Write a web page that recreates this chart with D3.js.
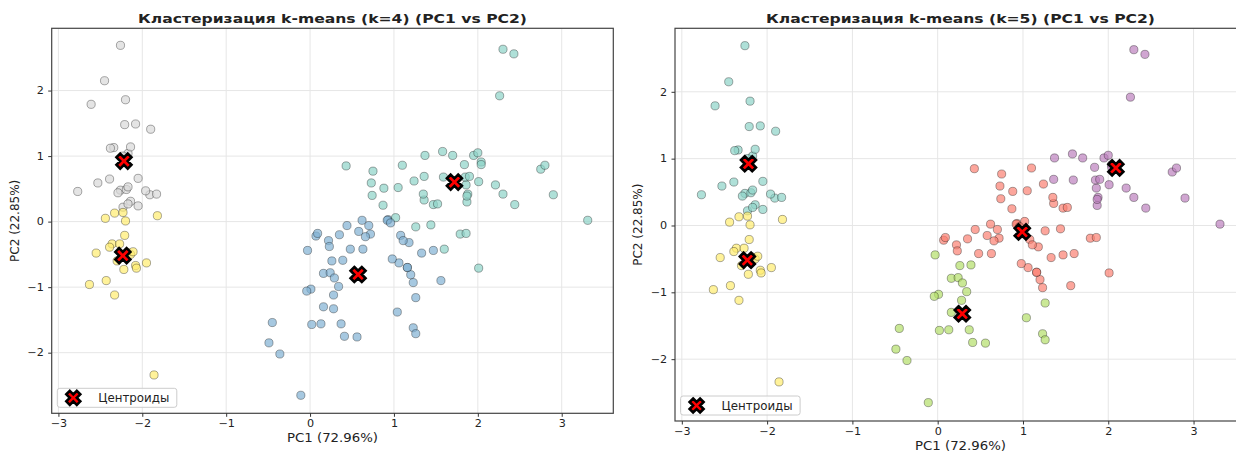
<!DOCTYPE html>
<html>
<head>
<meta charset="utf-8">
<script src="https://cdn.jsdelivr.net/npm/d3@7"></script>
<style>
body { margin: 0; background: #fff; }
text { font-family: "DejaVu Sans", sans-serif; fill: #222; }
</style>
</head>
<body>
<script>
// PCA coordinates of the 150 samples
var pc1 = [
  -2.26,-2.08,-2.36,-2.30,-2.39,-2.08,-2.44,-2.23,-2.33,-2.18,
  -2.17,-2.33,-2.22,-2.63,-2.20,-2.26,-2.21,-2.19,-1.90,-2.34,
  -1.91,-2.21,-2.77,-1.82,-2.23,-1.95,-2.05,-2.17,-2.14,-2.27,
  -2.14,-1.83,-2.61,-2.45,-2.11,-2.21,-2.05,-2.53,-2.43,-2.17,
  -2.29,-1.86,-2.55,-1.96,-2.14,-2.07,-2.38,-2.39,-2.23,-2.20,
  1.10,0.73,1.24,0.41,1.08,0.39,0.75,-0.49,0.93,0.01,
  -0.11,0.44,0.56,0.72,-0.03,0.88,0.35,0.16,1.23,0.16,
  0.74,0.48,1.23,0.63,0.70,0.87,1.26,1.36,0.66,-0.04,
  0.13,0.02,0.24,1.06,0.22,0.43,1.05,1.04,0.07,0.28,
  0.28,0.62,0.34,-0.36,0.29,0.09,0.23,0.58,-0.45,0.26,
  1.84,1.16,2.21,1.44,1.87,2.75,0.37,2.30,2.01,2.26,
  1.36,1.60,1.88,1.26,1.47,1.59,1.47,2.43,3.31,1.26,
  2.04,0.98,2.90,1.33,1.70,1.95,1.18,1.02,1.79,1.86,
  2.44,2.30,1.86,1.11,1.20,2.80,1.58,1.35,0.92,1.85,
  2.01,1.90,1.16,2.04,2.00,1.87,1.56,1.52,1.37,0.96
];
var pc2 = [
  0.48,-0.67,-0.34,-0.60,0.65,1.49,0.05,0.22,-1.12,-0.47,
  1.04,0.13,-0.73,-0.96,1.86,2.69,1.48,0.49,1.41,1.13,
  0.41,0.92,0.46,0.09,0.14,-0.63,0.24,0.53,0.31,-0.34,
  -0.50,0.42,1.79,2.15,-0.46,-0.21,0.66,0.59,-0.90,0.27,
  0.44,-2.34,-0.48,0.47,1.14,-0.71,1.12,-0.39,1.00,0.01,
  0.86,0.59,0.62,-1.75,-0.21,-0.59,0.77,-1.85,0.03,-1.03,
  -2.65,-0.06,-1.76,-0.19,-0.44,0.51,-0.20,-0.79,-1.62,-1.30,
  0.40,-0.42,-0.93,-0.42,-0.06,0.25,-0.08,0.33,-0.23,-1.06,
  -1.56,-1.57,-0.78,-0.63,-0.29,0.85,0.52,-1.38,-0.22,-1.33,
  -1.12,0.02,-0.99,-2.02,-0.86,-0.18,-0.38,-0.15,-1.54,-0.60,
  0.87,-0.70,0.56,-0.05,0.30,0.80,-1.56,0.42,-0.71,1.92,
  0.69,-0.42,0.42,-1.16,-0.44,0.68,0.26,2.56,0.02,-1.71,
  0.91,-0.57,0.41,-0.48,1.01,1.01,-0.32,0.06,-0.19,0.56,
  0.26,2.63,-0.18,-0.29,-0.81,0.86,1.07,0.42,0.02,0.68,
  0.61,0.69,-0.70,0.87,1.05,0.39,-0.90,0.27,1.01,-0.02
];

// cluster labels
var clusterK4 = [
  2,3,3,3,2,2,3,2,3,3, 2,3,3,3,2,2,2,2,2,2, 2,2,2,3,3,3,2,2,2,3,
  3,2,2,2,3,3,2,2,3,2, 2,3,3,2,2,3,2,3,2,3,
  0,0,0,1,1,1,0,1,1,1, 1,1,1,1,1,0,1,1,1,1, 0,1,1,1,1,0,0,0,1,1,
  1,1,1,1,1,0,0,1,1,1, 1,1,1,1,1,1,1,1,1,1,
  0,1,0,0,0,0,1,0,0,0, 0,0,0,1,1,0,0,0,0,1, 0,1,0,1,0,0,1,0,0,0,
  0,0,0,1,1,0,0,0,1,0, 0,0,1,0,0,0,1,0,0,1
];
var clusterK5 = [
  0,4,4,4,0,0,4,0,4,4, 0,4,4,4,0,0,0,0,0,0, 0,0,0,4,4,4,0,0,0,4,
  4,0,0,0,4,4,0,0,4,0, 0,4,4,0,0,4,0,4,0,4,
  1,1,1,2,1,2,1,2,1,2, 2,1,2,1,2,1,1,2,2,2, 1,1,1,1,1,1,1,1,1,2,
  2,2,2,1,1,1,1,2,1,2, 2,1,2,2,2,1,1,1,2,2,
  3,1,3,1,3,3,2,3,1,3, 3,1,3,2,1,3,1,3,3,2, 3,1,3,1,3,3,1,1,1,3,
  3,3,1,1,1,3,3,1,1,3, 3,3,1,3,3,3,1,1,3,1
];

var xTicks = [-3, -2, -1, 0, 1, 2, 3];
var yTicks = [-2, -1, 0, 1, 2];

// Set3 colours picked the way matplotlib maps labels 0..k-1
var colorsK4 = ["#8dd3c7", "#80b1d3", "#d9d9d9", "#ffed6f"];
var colorsK5 = ["#8dd3c7", "#fb8072", "#b3de69", "#bc80bd", "#ffed6f"];

var samples = pc1.map(function(d, i) { return {pc1: d, pc2: pc2[i], i: i}; });

var svg = d3.select("body")
    .append("svg")
        .attr("width", 1236)
        .attr("height", 453);

var xDomain = [-3.08, 3.615];
var yDomain = [-2.925, 2.95];
var stretch = 1.12;   // the reference text is a bit wider than tall

var panels = [
    {title: "Кластеризация k-means (k=4) (PC1 vs PC2)", clusters: clusterK4, colors: colorsK4,
     left: 51.7, top: 28.3, right: 613.3, bottom: 413.3, ylabelX: 15},
    {title: "Кластеризация k-means (k=5) (PC1 vs PC2)", clusters: clusterK5, colors: colorsK5,
     left: 675, top: 28.3, right: 1246, bottom: 421, ylabelX: 638}
];

// matplotlib "X" marker outline
var xMarker = [[-1,-2],[0,-1],[1,-2],[2,-1],[1,0],[2,1],[1,2],[0,1],[-1,2],[-2,1],[-1,0],[-2,-1]];
var markerPath = function(size) {
    return d3.line()(xMarker.map(function(p) { return [p[0] * size / 4, p[1] * size / 4]; })) + "Z";
};

panels.forEach(function(p) {
    var x = d3.scaleLinear().domain(xDomain).range([p.left, p.right]);
    var y = d3.scaleLinear().domain(yDomain).range([p.bottom, p.top]);
    var g = svg.append("g");

    // grid
    g.selectAll(".gx").data(xTicks).enter().append("line")
        .attr("x1", x).attr("x2", x).attr("y1", p.top).attr("y2", p.bottom)
        .attr("stroke", "#e6e6e6").attr("stroke-width", 1);
    g.selectAll(".gy").data(yTicks).enter().append("line")
        .attr("y1", y).attr("y2", y).attr("x1", p.left).attr("x2", p.right)
        .attr("stroke", "#e6e6e6").attr("stroke-width", 1);

    // points
    g.selectAll(".pt").data(samples).enter().append("circle")
        .attr("cx", function(d) { return x(d.pc1); })
        .attr("cy", function(d) { return y(d.pc2); })
        .attr("r", 4.1)
        .attr("fill", function(d) { return p.colors[p.clusters[d.i]]; })
        .attr("fill-opacity", 0.7)
        .attr("stroke", "#000")
        .attr("stroke-opacity", 0.55)
        .attr("stroke-width", 0.6);

    // centroids = mean of each cluster
    var centroids = d3.rollups(samples, function(v) {
        return {pc1: d3.mean(v, function(d) { return d.pc1; }), pc2: d3.mean(v, function(d) { return d.pc2; })};
    }, function(d) { return p.clusters[d.i]; }).map(function(e) { return e[1]; });

    g.selectAll(".cen").data(centroids).enter().append("path")
        .attr("d", markerPath(15))
        .attr("transform", function(d) { return "translate(" + x(d.pc1) + "," + y(d.pc2) + ")"; })
        .attr("fill", "red")
        .attr("stroke", "#000")
        .attr("stroke-width", 2.6)
        .attr("stroke-linejoin", "miter");

    // spines
    g.append("rect")
        .attr("x", p.left).attr("y", p.top)
        .attr("width", p.right - p.left).attr("height", p.bottom - p.top)
        .attr("fill", "none").attr("stroke", "#444").attr("stroke-width", 1.2);

    // axes
    var xAxis = g.append("g")
        .attr("transform", "translate(0," + p.bottom + ")")
        .call(d3.axisBottom(x).tickValues(xTicks).tickFormat(d3.format("d"))
            .tickSize(3.5).tickPadding(3.5).tickSizeOuter(0));
    var yAxis = g.append("g")
        .attr("transform", "translate(" + p.left + ",0)")
        .call(d3.axisLeft(y).tickValues(yTicks).tickFormat(d3.format("d"))
            .tickSize(3.5).tickPadding(3.5).tickSizeOuter(0));
    [xAxis, yAxis].forEach(function(a) {
        a.select(".domain").remove();
        a.selectAll("line").attr("stroke", "#333");
        a.selectAll("text")
            .attr("font-size", 10)
            .attr("font-family", "DejaVu Sans")
            .attr("fill", "#222")
            .attr("transform", "scale(" + stretch + ",1)");
    });

    // title + labels
    var cx = (p.left + p.right) / 2;
    svg.append("text")
        .attr("x", cx).attr("y", 22.7)
        .attr("text-anchor", "middle")
        .attr("font-size", 12.8).attr("font-weight", "bold")
        .attr("fill", "#000")
        .attr("textLength", 389).attr("lengthAdjust", "spacingAndGlyphs")
        .text(p.title);
    svg.append("text")
        .attr("x", cx).attr("y", p.bottom + 29)
        .attr("text-anchor", "middle")
        .attr("font-size", 12)
        .attr("textLength", 91).attr("lengthAdjust", "spacingAndGlyphs")
        .text("PC1 (72.96%)");
    svg.append("text")
        .attr("transform", "translate(" + p.ylabelX + "," + ((p.top + p.bottom) / 2) + ") rotate(-90)")
        .attr("text-anchor", "middle")
        .attr("dy", "0.35em")
        .attr("font-size", 12)
        .text("PC2 (22.85%)");

    // legend
    var lx = p.left + 5.6, ly = p.bottom - 6 - 19;
    g.append("rect")
        .attr("x", lx).attr("y", ly).attr("width", 119.5).attr("height", 19)
        .attr("rx", 2.5)
        .attr("fill", "#fff").attr("fill-opacity", 0.8)
        .attr("stroke", "#ccc").attr("stroke-width", 1);
    g.append("path")
        .attr("d", markerPath(14))
        .attr("transform", "translate(" + (lx + 16) + "," + (ly + 9.5) + ")")
        .attr("fill", "red").attr("stroke", "#000").attr("stroke-width", 2.6);
    g.append("text")
        .attr("x", lx + 41).attr("y", ly + 9.5)
        .attr("dy", "0.35em")
        .attr("font-size", 11.5)
        .attr("textLength", 71).attr("lengthAdjust", "spacingAndGlyphs")
        .text("Центроиды");
});
</script>
</body>
</html>
